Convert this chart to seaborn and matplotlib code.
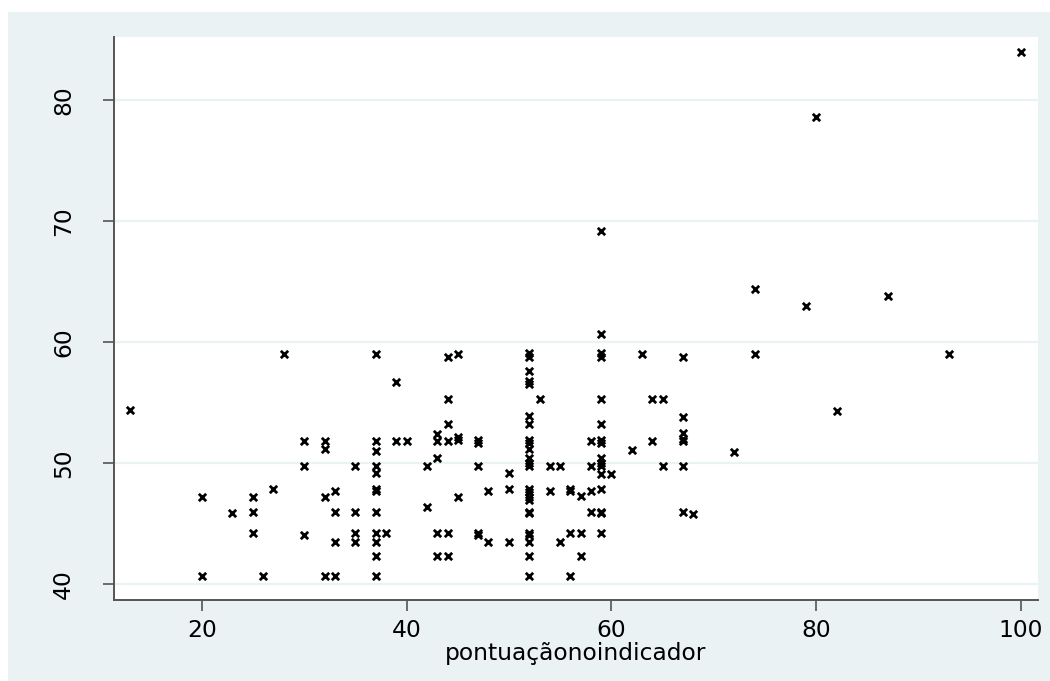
import matplotlib
matplotlib.use("Agg")
import matplotlib.pyplot as plt
import seaborn as sns
import pandas as pd
from matplotlib.patches import Rectangle

# ---- data ----
x_score = (
    [13] + [20] * 2 + [23] + [25] * 3 + [26] + [27] + [28] + [30] * 3 + [32] * 4 + [33] * 4 + [35] * 4
    + [37] * 12 + [38] + [39] * 2 + [40] + [42] * 2 + [43] * 5 + [44] * 6 + [45] * 4 + [47] * 5
    + [48] * 2 + [50] * 3 + [52] * 24 + [53] + [54] * 2 + [55] * 2 + [56] * 4 + [57] * 3 + [58] * 4
    + [59] * 16 + [60] + [62] + [63] + [64] * 2 + [65] * 2 + [67] * 7 + [68] + [72] + [74] * 2
    + [79] + [80] + [82] + [87] + [93] + [100]
)
y_value = (
    [54.4]
    + [47.2, 40.7]
    + [45.9]
    + [47.2, 46.0, 44.2]
    + [40.7]
    + [47.9]
    + [59.0]
    + [51.8, 49.8, 44.1]
    + [51.8, 51.2, 47.2, 40.7]
    + [47.7, 46.0, 43.5, 40.7]
    + [49.8, 46.0, 44.2, 43.5]
    + [59.0, 51.8, 51.0, 49.8, 49.2, 47.9, 47.7, 46.0, 44.2, 43.5, 42.3, 40.7]
    + [44.2]
    + [56.7, 51.8]
    + [51.8]
    + [49.8, 46.4]
    + [52.4, 51.8, 50.4, 44.2, 42.3]
    + [58.8, 55.3, 53.2, 51.8, 44.2, 42.3]
    + [59.0, 52.2, 51.9, 47.2]
    + [51.9, 51.7, 49.8, 44.2, 44.1]
    + [47.7, 43.5]
    + [49.2, 47.9, 43.5]
    + [59.1, 58.8, 57.6, 56.8, 56.5, 53.9, 53.2, 51.9, 51.7, 51.2, 50.4, 50.0, 49.8, 47.9,
       47.6, 47.2, 47.0, 46.0, 45.9, 44.2, 44.1, 43.5, 42.3, 40.7]
    + [55.3]
    + [49.8, 47.7]
    + [49.8, 43.5]
    + [47.9, 47.7, 44.2, 40.7]
    + [47.3, 44.2, 42.3]
    + [51.8, 49.8, 47.7, 46.0]
    + [69.2, 60.7, 59.1, 58.8, 55.3, 53.2, 51.9, 51.7, 50.4, 50.0, 49.8, 49.1, 47.9, 46.0, 45.9, 44.2]
    + [49.1]
    + [51.1]
    + [59.0]
    + [55.3, 51.8]
    + [55.3, 49.8]
    + [58.8, 53.8, 52.5, 52.0, 51.8, 49.8, 46.0]
    + [45.8]
    + [50.9]
    + [64.4, 59.0]
    + [63.0]
    + [78.6]
    + [54.3]
    + [63.8]
    + [59.0]
    + [84.0]
)
x_ticks = [20, 40, 60, 80, 100]
y_ticks = [40, 50, 60, 70, 80]
x_label = "pontuaçãonoindicador"

df = pd.DataFrame({"x": x_score, "y": y_value})

sns.set_theme(style="white")
plt.rcParams["font.family"] = ["DejaVu Sans"]

W, H = 1050, 681
fig = plt.figure(figsize=(W / 100, H / 100), dpi=100, facecolor="white")
bg = "#EAF2F3"
fig.patches.append(Rectangle((8 / W, 0), (W - 8) / W, (H - 12) / H,
                             transform=fig.transFigure, facecolor=bg, edgecolor="none",
                             zorder=-10))

ax = fig.add_axes([114 / W, (H - 600) / H, (1038 - 114) / W, (600 - 37) / H])
ax.set_zorder(5)
ax.set_facecolor("white")

sns.scatterplot(data=df, x="x", y="y", marker="x", color="black", s=28,
                linewidth=2.0, ax=ax, zorder=3)

ax.set_xlim(11.43, 101.66)
ax.set_ylim(38.7, 85.2)
ax.set_xticks(x_ticks)
ax.set_yticks(y_ticks)
for t in y_ticks:
    ax.axhline(t, color=bg, lw=1.6, zorder=1)

for side in ["top", "right"]:
    ax.spines[side].set_visible(False)
for side in ["left", "bottom"]:
    ax.spines[side].set_color("#555555")
    ax.spines[side].set_linewidth(1.4)

ax.tick_params(axis="both", direction="out", length=8, width=1.2, color="#555555",
               labelsize=16.8, labelcolor="black", bottom=True, left=True)
ax.tick_params(axis="x", pad=6)
ax.tick_params(axis="y", pad=20)
for lab in ax.get_yticklabels():
    lab.set_rotation(90)
    lab.set_va("center")

ax.set_xlabel(x_label, fontsize=16.8, labelpad=0, color="black")
ax.set_ylabel("")

fig.savefig("out.png", dpi=100, facecolor=fig.get_facecolor())
